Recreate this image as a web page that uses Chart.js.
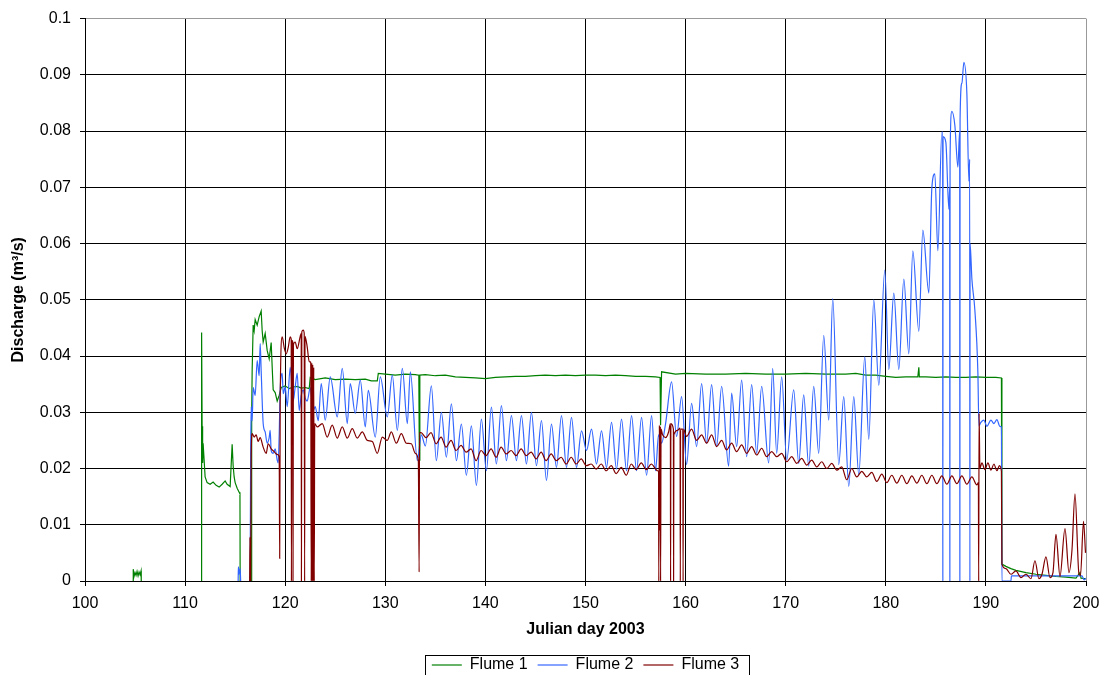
<!DOCTYPE html>
<html>
<head>
<meta charset="utf-8">
<title>Flume discharge</title>
<script src="https://cdn.jsdelivr.net/npm/chart.js@4.4.1/dist/chart.umd.min.js"></script>
<style>
  html, body { margin: 0; padding: 0; background: #fff; }
  #wrap { width: 1102px; height: 675px; }
</style>
</head>
<body>
<div id="wrap"><canvas id="chart"></canvas></div>
<script>
// [julian day, discharge m3/s], null = no data
const flume1 = [
  [104.8,0],[104.82,0.0021],[104.9,0.0008],[105.0,0.0015],[105.1,0.001],[105.2,0.0017],[105.3,0.0009],[105.4,0.0016],[105.5,0.0011],[105.6,0.0018],[105.62,0],
  [108,null],
  [111.6,0],[111.65,0.0442],[111.7,0.0275],[111.75,0.021],[111.8,0.0245],[111.9,0.0215],[112.0,0.0185],[112.2,0.0175],[112.5,0.0172],[112.8,0.0176],[113.1,0.017],[113.4,0.0167],[113.7,0.0172],[114.0,0.0178],[114.2,0.0172],[114.5,0.0168],[114.7,0.0243],[114.8,0.0205],[114.9,0.0185],[115.0,0.0175],[115.2,0.0165],[115.4,0.0158],[115.48,0.0155],[115.5,0],
  [116,null],
  [116.6,0],[116.65,0.0295],[116.7,0.0375],[116.8,0.0455],[116.9,0.0445],[117.0,0.0465],[117.2,0.0455],[117.4,0.047],[117.6,0.048],[117.7,0.0445],[117.8,0.0425],[118.0,0.044],[118.2,0.041],[118.4,0.0395],[118.6,0.0424],[118.7,0.038],[118.8,0.034],[119.0,0.0335],[119.2,0.032],[119.4,0.033],[119.6,0.0344],
  [120.0,0.0347],[120.4,0.0342],[120.8,0.0345],[121.2,0.0346],[121.6,0.0343],[122.0,0.0344],[122.4,0.0342],[122.5,0.0362],[123.0,0.0358],[124.0,0.0361],[125.0,0.0358],[126.0,0.0359],[127.0,0.0358],[128.0,0.0359],[128.6,0.0356],[129.2,0.0356],[129.3,0.0369],
  [130.0,0.0368],[131.0,0.0366],[132.0,0.0368],[133.0,0.0367],[133.35,0.0366],[133.4,0.0215],[133.45,0.0366],[134.0,0.0367],[135.0,0.0365],[136.0,0.0366],[137.0,0.0363],[138.0,0.0362],[139.0,0.0361],
  [140.0,0.036],[141.0,0.0362],[142.0,0.0363],[143.0,0.0364],[144.0,0.0364],[145.0,0.0365],[146.0,0.0366],[147.0,0.0365],[148.0,0.0366],[149.0,0.0365],
  [150.0,0.0366],[151.0,0.0366],[152.0,0.0365],[153.0,0.0366],[154.0,0.0365],[155.0,0.0364],[156.0,0.0364],[157.0,0.0363],[157.45,0.0362],[157.5,0.0277],[157.6,0.0372],[159.0,0.0368],
  [160.0,0.0369],[162.0,0.0368],[164.0,0.0368],[166.0,0.0369],[168.0,0.0368],[170.0,0.0368],[172.0,0.0369],[174.0,0.0368],[176.0,0.0368],[177.0,0.0369],[178.0,0.0366],[179.0,0.0366],
  [180.0,0.0364],[181.0,0.0362],[182.0,0.0363],[183.2,0.0363],[183.3,0.038],[183.35,0.0363],[184.0,0.0363],[185.0,0.0362],[186.0,0.0363],[187.0,0.0362],[188.0,0.0362],[189.0,0.0363],
  [190.0,0.0362],[191.0,0.0362],[191.55,0.0361],[191.6,0.003],[192.0,0.0026],[192.5,0.0022],[193.0,0.0019],[194.0,0.0015],[195.0,0.0012],[196.0,0.001],[197.0,0.0008],[198.0,0.0007],[199.0,0.0005],[199.4,0.0015],[199.5,0.0005],[200.0,0.0004]
];

const flume2 = [
  [115.3,0],[115.32,0.0025],[115.4,0.0012],[115.5,0.0022],[115.55,0],
  [116,null],
  [116.5,0],[116.55,0.0227],[116.6,0.031],[116.7,0.0285],[116.8,0.0344],[117.0,0.033],[117.2,0.0392],[117.4,0.0365],[117.5,0.0422],[117.6,0.0374],[117.8,0.028],[118.0,0.0265],[118.2,0.0245],[118.4,0.0255],[118.5,0.0268],[118.6,0.0232],[118.8,0.0227],[119.0,0.0235],[119.2,0.0215],[119.3,0.021],[119.4,0.026],[119.5,0.034],[119.7,0.0369],[119.8,0.0333],
  [120.0,0.0345],[120.2,0.031],[120.5,0.038],[120.8,0.032],[121.0,0.0345],[121.2,0.0369],[121.4,0.0303],[121.6,0.033],[121.8,0.034],[122.0,0.0325],[122.2,0.032],[122.5,0.0344],[122.8,0.0303],[123.0,0.031],[123.3,0.0285],[123.6,0.0351],
  [124.0,0.0286],[124.5,0.0363],[125.2,0.0292],[125.7,0.0378],[126.2,0.028],[126.5,0.0351],[127.0,0.0298],[127.5,0.0357],[128.0,0.0274],[128.3,0.0339],[129.0,0.0256],[129.5,0.0363],
  [130.2,0.0292],[130.7,0.0366],[131.2,0.0268],[131.7,0.0378],[132.2,0.028],[132.5,0.0372],[133.2,0.0214],[133.6,0.026],[134.0,0.024],[134.6,0.0347],[135.1,0.0214],[135.6,0.03],
  [136.1,0.022],[136.6,0.0315],[137.1,0.0214],[137.6,0.0279],[138.1,0.0188],[138.6,0.0276],[139.1,0.017],[139.6,0.0288],[140.1,0.0196],[140.6,0.0309],[141.1,0.0208],[141.6,0.0312],
  [142.1,0.0214],[142.6,0.0294],[143.1,0.0214],[143.6,0.0294],[144.1,0.0208],[144.6,0.03],[145.1,0.0205],[145.6,0.0285],[146.1,0.0179],[146.6,0.0279],[147.1,0.0202],[147.6,0.0294],
  [148.1,0.0202],[148.6,0.0291],[149.1,0.0202],[149.6,0.0267],[150.1,0.0232],[150.6,0.027],[151.1,0.0208],[151.6,0.0267],[152.1,0.0202],[152.6,0.0282],[153.1,0.0199],[153.6,0.0288],
  [154.1,0.0196],[154.6,0.0294],[155.1,0.0196],[155.6,0.0291],[156.1,0.0188],[156.6,0.0294],[157.0,0.0196],[157.3,0.026],[157.6,0.0245],[158.0,0.028],[158.6,0.0354],[159.1,0.0257],[159.6,0.0328],
  [160.1,0.0207],[160.6,0.0316],[161.1,0.0239],[161.6,0.0351],[162.1,0.0245],[162.6,0.0349],[163.1,0.0239],[163.6,0.0346],[164.3,0.0204],[164.6,0.0334],[165.1,0.0239],[165.6,0.0357],
  [166.1,0.0221],[166.6,0.0349],[167.1,0.0227],[167.6,0.0346],[168.3,0.021],[168.7,0.0378],[169.1,0.0227],[169.6,0.0363],[170.1,0.0215],[170.8,0.034],[171.3,0.0209],[171.8,0.0331],
  [172.3,0.0204],[172.8,0.0346],[173.3,0.0227],[173.8,0.0437],[174.3,0.0286],[174.7,0.0502],[175.3,0.0207],[175.8,0.0328],[176.3,0.0168],[176.8,0.0328],[177.3,0.0189],[177.9,0.0399],
  [178.3,0.0252],[178.8,0.05],[179.3,0.0348],[179.9,0.0553],[180.3,0.0376],[180.8,0.0512],[181.3,0.0376],[181.8,0.0537],[182.3,0.0404],[182.7,0.0587],[183.3,0.0444],[183.7,0.0624],
  [184.3,0.0512],[184.6,0.0699],[184.9,0.0724],[185.2,0.0587],[185.6,0.0798],[185.68,0.0798],[185.7,0],[185.72,0.079],[186.0,0.078],[186.3,0.0661],[186.38,0.07],[186.4,0],[186.42,0.075],
  [186.6,0.0835],[186.9,0.081],[187.2,0.0736],[187.38,0.08],[187.4,0],[187.42,0.082],[187.6,0.0885],[187.8,0.0922],[188.1,0.0866],[188.3,0.0711],[188.38,0.075],[188.4,0],[188.42,0.06],
  [188.6,0.0537],[188.9,0.0481],[189.2,0.037],[189.3,0.0276],[189.5,0.0282],[189.8,0.0286],[190.1,0.0275],[190.5,0.0286],[190.8,0.028],[191.1,0.0287],[191.4,0.0275],[191.55,0.0274],[191.6,0],
  [192.5,0],[192.55,0.0009],[195.0,0.0009],[198.0,0.0009],[199.6,0.0009],[199.8,0.0002],[200.0,0.0005]
];

const flume3 = [
  [116.45,0],[116.48,0.0078],[116.5,0],[116.55,0],[116.6,0.022],[116.7,0.0262],[116.9,0.0256],[117.1,0.026],[117.3,0.0248],[117.5,0.0255],[117.8,0.0238],[118.1,0.0227],[118.3,0.0244],[118.6,0.0235],[118.9,0.023],[119.2,0.0225],[119.4,0.0221],[119.45,0.004],
  [119.5,0.0321],[119.7,0.0434],[119.9,0.0415],[120.1,0.0404],[120.3,0.0415],[120.5,0.0434],[120.6,0.043],[120.62,0],[120.66,0.0428],[120.75,0.0425],[120.78,0],[120.82,0.042],[121.0,0.0425],[121.2,0.0413],
  [121.5,0.0435],[121.6,0.044],[121.62,0],[121.66,0.0443],[121.8,0.0446],[121.9,0.044],[121.94,0],[121.98,0.0435],[122.2,0.0416],[122.4,0.039],[122.55,0.0389],[122.6,0],[122.65,0.0388],[122.7,0],[122.75,0.0385],[122.8,0],[122.85,0.038],[122.9,0],[122.95,0.028],
  [123.2,0.0274],[123.7,0.028],[124.2,0.0256],[124.7,0.0277],[125.2,0.0254],[125.7,0.0274],[126.2,0.0254],[126.7,0.0271],[127.2,0.0254],[127.7,0.0265],[128.2,0.025],[128.7,0.0248],[129.2,0.0227],[129.7,0.0256],
  [130.2,0.025],[130.6,0.0265],[131.1,0.0245],[131.6,0.0262],[132.1,0.0245],[132.6,0.0244],[133.0,0.0227],[133.3,0.0214],[133.38,0.0016],[133.42,0.0264],[133.57,0.0264],[134.07,0.0255],[134.57,0.0264],
  [135.07,0.0244],[135.57,0.0256],[136.07,0.0238],[136.57,0.025],[137.07,0.0232],[137.57,0.0241],[138.07,0.0229],[138.57,0.0235],[139.07,0.0214],[139.57,0.0232],[140.07,0.0223],[140.57,0.0235],
  [141.07,0.022],[141.57,0.0238],[142.07,0.0226],[142.57,0.0232],[143.07,0.0223],[143.57,0.0235],[144.07,0.0223],[144.57,0.0229],[145.07,0.0217],[145.57,0.0229],[146.07,0.0214],[146.57,0.0226],
  [147.07,0.0214],[147.57,0.022],[148.07,0.0208],[148.57,0.022],[149.07,0.0208],[149.57,0.0217],[150.07,0.0205],[150.57,0.0208],[151.07,0.0199],[151.57,0.0208],[152.07,0.0196],[152.57,0.0205],
  [153.07,0.0191],[153.57,0.0202],[154.07,0.0188],[154.57,0.0208],[155.07,0.0198],[155.57,0.021],[156.07,0.0198],[156.57,0.0208],[157.2,0.0196],[157.3,0.0195],[157.32,0],[157.38,0.0277],[157.42,0.009],
  [157.48,0.0275],[157.5,0],[157.55,0.027],[157.7,0.026],[158.0,0.0255],[158.3,0.0265],[158.48,0.028],[158.5,0],[158.53,0.028],[158.78,0.027],[158.8,0],[158.83,0.026],[159.2,0.0268],[159.45,0.0272],[159.47,0],
  [159.5,0.027],[159.72,0.027],[159.75,0],[159.78,0.027],[160.1,0.0257],[160.6,0.027],[161.1,0.025],[161.6,0.026],[162.1,0.0245],[162.6,0.026],[163.1,0.0239],[163.6,0.025],[164.1,0.0233],[164.6,0.0245],
  [165.1,0.023],[165.6,0.0242],[166.1,0.0227],[166.6,0.0239],[167.1,0.0224],[167.6,0.0236],[168.1,0.0221],[168.6,0.023],[169.1,0.0221],[169.6,0.0227],[170.1,0.0212],[170.6,0.0221],[171.1,0.0209],
  [171.6,0.0218],[172.1,0.0206],[172.6,0.0215],[173.1,0.0203],[173.6,0.0212],[174.1,0.02],[174.6,0.0209],[175.1,0.0197],[175.6,0.0203],[176.1,0.018],[176.6,0.02],[177.1,0.0185],[177.6,0.0195],
  [178.1,0.0185],[178.6,0.0193],[179.1,0.0177],[179.6,0.019],[180.1,0.0175],[180.6,0.0188],[181.1,0.0174],[181.6,0.0188],[182.1,0.0173],[182.6,0.0187],[183.1,0.0174],[183.6,0.0188],[184.1,0.0173],
  [184.6,0.0188],[185.1,0.0173],[185.6,0.0187],[186.1,0.0172],[186.6,0.0187],[187.1,0.0173],[187.6,0.0187],[188.1,0.0172],[188.6,0.0185],[189.1,0.0171],[189.25,0.0175],[189.28,0],[189.32,0.0298],
  [189.4,0.02],[189.6,0.021],[189.9,0.0198],[190.2,0.021],[190.5,0.0197],[190.8,0.0208],[191.1,0.0196],[191.35,0.0205],[191.55,0.0195],[191.6,0.003],[192.0,0.0022],[192.5,0.0012],[193.0,0.0018],
  [193.5,0.0006],[194.0,0.0012],[194.5,0.0004],[194.9,0.0036],[195.3,0.0004],[195.6,0.0012],[196.0,0.0043],[196.4,0.0006],[196.7,0.0015],[197.0,0.0083],[197.4,0.0008],[197.9,0.0093],[198.3,0.0015],
  [198.6,0.0055],[198.9,0.0155],[199.3,0.0012],[199.45,0.001],[199.75,0.0106],[199.95,0.005]
];

const seriesNames = ['Flume 1', 'Flume 2', 'Flume 3'];
const seriesColors = ['#008000', '#3366ff', '#800000'];
const xTicks = [100, 110, 120, 130, 140, 150, 160, 170, 180, 190, 200];
const yTicks = [0, 0.01, 0.02, 0.03, 0.04, 0.05, 0.06, 0.07, 0.08, 0.09, 0.1];

const FONT = 'Liberation Sans, Arial, sans-serif';

const toPoints = arr => arr.map(p => ({ x: p[0], y: p[1] }));

// Excel-style frame around the legend
const legendFrame = {
  id: 'legendFrame',
  afterDraw(chart) {
    const lg = chart.legend;
    if (!lg || !lg.legendHitBoxes || !lg.legendHitBoxes.length) return;
    const boxes = lg.legendHitBoxes;
    const first = boxes[0], last = boxes[boxes.length - 1];
    const ctx = chart.ctx;
    const x0 = Math.round(first.left - 7) + 0.5;
    const x1 = Math.round(last.left + last.width + 10) + 0.5;
    const y0 = Math.round(first.top - 2) + 0.5;
    const y1 = Math.round(first.top + first.height + 12) + 0.5;
    ctx.save();
    ctx.strokeStyle = '#000';
    ctx.lineWidth = 1;
    ctx.strokeRect(x0, y0, x1 - x0, y1 - y0);
    ctx.restore();
  }
};

new Chart(document.getElementById('chart'), {
  type: 'line',
  data: {
    datasets: [flume1, flume2, flume3].map((s, i) => ({
      label: seriesNames[i],
      data: toPoints(s),
      borderColor: seriesColors[i],
      backgroundColor: seriesColors[i],
      borderWidth: 1.2,
      pointRadius: 0,
      pointHoverRadius: 0,
      cubicInterpolationMode: i === 0 ? 'default' : 'monotone',
      tension: 0,
      fill: false,
      spanGaps: false,
      order: 3 - i   // Flume 3 drawn on top
    }))
  },
  options: {
    responsive: true,
    maintainAspectRatio: false,
    animation: false,
    devicePixelRatio: 1,
    layout: { padding: { top: 17, right: 16, left: 0, bottom: -8 } },
    plugins: {
      tooltip: { enabled: false },
      legend: {
        position: 'bottom',
        fullSize: false,
        labels: {
          usePointStyle: true,
          pointStyle: 'line',
          pointStyleWidth: 30,
          padding: 10,
          color: '#000',
          font: { family: FONT, size: 16 },
          sort: (a, b) => a.datasetIndex - b.datasetIndex
        }
      }
    },
    scales: {
      x: {
        type: 'linear',
        min: 100,
        max: 200,
        afterBuildTicks: s => { s.ticks = xTicks.map(v => ({ value: v })); },
        afterFit: s => { s.height = 66; s.paddingLeft = 0; s.paddingRight = 0; },
        ticks: {
          color: '#000',
          padding: 8,
          maxRotation: 0,
          font: { family: FONT, size: 16 },
          callback: v => String(v)
        },
        grid: {
          color: c => (c.tick && c.tick.value === 200 ? '#999' : '#000'),
          tickColor: '#000',
          tickLength: 5,
          lineWidth: 1
        },
        border: { color: '#000', width: 1 },
        title: {
          display: true,
          text: 'Julian day 2003',
          color: '#000',
          font: { family: FONT, size: 16, weight: 'bold' },
          padding: { top: 0, bottom: 8 }
        }
      },
      y: {
        min: 0,
        max: 0.1,
        afterBuildTicks: s => { s.ticks = yTicks.map(v => ({ value: v })); },
        afterFit: s => { s.width = 85; },
        ticks: {
          color: '#000',
          padding: 9,
          font: { family: FONT, size: 16 },
          callback: v => String(+v.toFixed(2))
        },
        grid: {
          color: c => (c.tick && c.tick.value === 0.1 ? '#999' : '#000'),
          tickColor: '#000',
          tickLength: 5,
          lineWidth: 1
        },
        border: { color: '#000', width: 1 },
        title: {
          display: true,
          text: 'Discharge (m³/s)',
          color: '#000',
          font: { family: FONT, size: 16, weight: 'bold' },
          padding: { top: 9, bottom: 0 }
        }
      }
    }
  },
  plugins: [legendFrame]
});
</script>
</body>
</html>
